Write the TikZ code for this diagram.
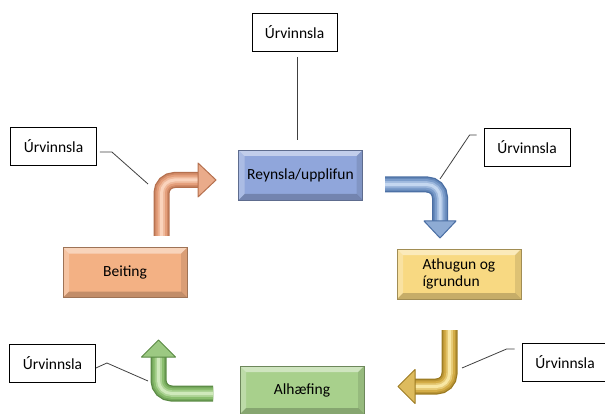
\documentclass[tikz,border=0pt]{standalone}
\usepackage{fontspec}
\setmainfont{Carlito}
\usetikzlibrary{calc}
\definecolor{boxblue}{HTML}{90A6DB}
\definecolor{boxyellow}{HTML}{F8D982}
\definecolor{boxgreen}{HTML}{A8D08C}
\definecolor{boxsalmon}{HTML}{F3B184}
\definecolor{orDark}{HTML}{B5704E}
\definecolor{orMid}{HTML}{E49E7A}
\definecolor{orLight}{HTML}{FAD3BC}
\definecolor{blDark}{HTML}{4A6EA3}
\definecolor{blMid}{HTML}{7C9DCB}
\definecolor{blLight}{HTML}{C4D7F0}
\definecolor{gdDark}{HTML}{9C7B22}
\definecolor{gdMid}{HTML}{D4AD47}
\definecolor{gdLight}{HTML}{F8E7A4}
\definecolor{grDark}{HTML}{5A8A44}
\definecolor{grMid}{HTML}{8BBE6F}
\definecolor{grLight}{HTML}{CFE9BB}
\tikzset{
  bevel/.style={path picture={
    \coordinate (pa) at (path picture bounding box.north west);
    \coordinate (pb) at (path picture bounding box.north east);
    \coordinate (pc) at (path picture bounding box.south east);
    \coordinate (pd) at (path picture bounding box.south west);
    \coordinate (qa) at ([shift={(6pt,-6pt)}]pa);
    \coordinate (qb) at ([shift={(-6pt,-6pt)}]pb);
    \coordinate (qc) at ([shift={(-6pt,6pt)}]pc);
    \coordinate (qd) at ([shift={(6pt,6pt)}]pd);
    \fill[white,opacity=.45] (pa)--(pb)--(qb)--(qa)--cycle;
    \fill[white,opacity=.25] (pa)--(qa)--(qd)--(pd)--cycle;
    \fill[black,opacity=.2] (pd)--(qd)--(qc)--(pc)--cycle;
    \fill[black,opacity=.1] (pb)--(pc)--(qc)--(qb)--cycle;
  }}
}
% tube arrow: dark, mid, light, shaft, head
\newcommand{\tubearrow}[5]{%
  \draw[#1,line width=16pt,rounded corners=13pt] #4;
  \draw[#1!45!#2,line width=13.5pt,rounded corners=13pt] #4;
  \draw[#2,line width=10.5pt,rounded corners=13pt] #4;
  \draw[#2!50!#3,line width=6.5pt,rounded corners=13pt] #4;
  \draw[#3,line width=3pt,rounded corners=13pt] #4;
  \filldraw[draw=#1,fill=#2!75!#3,line width=1pt,line join=round] #5;
}
\begin{document}
\begin{tikzpicture}[x=1pt,y=-1pt,
    every node/.style={font=\fontsize{15.5}{17}\selectfont},
    stepbox/.style={draw=#1!65!black,fill=#1,line width=0.6pt,minimum width=124pt,minimum height=50pt,inner sep=2pt,bevel},
    callout/.style={draw=black,fill=white,line width=0.8pt,minimum width=86pt,minimum height=38pt},
    callline/.style={draw=black!75,line width=0.8pt},
]
\useasboundingbox (0,0) rectangle (605,414);

% steps
\node[stepbox=boxblue] (reyn) at (300.5,175) {Reynsla/upplifun};
\node[stepbox=boxyellow,align=left] (athu) at (459,274) {Athugun og\\ígrundun};
\node[stepbox=boxgreen,minimum height=48pt] (alh) at (302,390) {Alhæfing};
\node[stepbox=boxsalmon] (beit) at (125,272.5) {Beiting};

% callouts
\node[callout,minimum width=85pt] (cTop) at (294.5,32.5) {Úrvinnsla};
\node[callout] (cRt) at (527,147) {Úrvinnsla};
\node[callout] (cLt) at (53.5,146.5) {Úrvinnsla};
\node[callout] (cLb) at (52.5,363) {Úrvinnsla};
\node[callout] (cRb) at (565,362) {Úrvinnsla};

% arrows
\coordinate (bo1) at (161.5,236);
\coordinate (bo2) at (161.5,180);
\coordinate (bo3) at (198,180);
\tubearrow{orDark}{orMid}{orLight}
  {(bo1) -- (bo2) -- (bo3)}{(bo3) ++(0,-17) -- ++(18,17) -- ++(-18,17) -- cycle}

\coordinate (ub1) at (385,184.5);
\coordinate (ub2) at (440,184.5);
\coordinate (ub3) at (440,221);
\tubearrow{blDark}{blMid}{blLight}
  {(ub1) -- (ub2) -- (ub3)}{(ub3) ++(-16,0) -- ++(16,17) -- ++(16,-17) -- cycle}

\coordinate (gd1) at (449.5,330);
\coordinate (gd2) at (449.5,386.5);
\coordinate (gd3) at (415,386.5);
\tubearrow{gdDark}{gdMid}{gdLight}
  {(gd1) -- (gd2) -- (gd3)}{(gd3) ++(0,-17) -- ++(-17,17) -- ++(17,17) -- cycle}

\coordinate (gr1) at (213,393.5);
\coordinate (gr2) at (158.5,393.5);
\coordinate (gr3) at (158.5,357);
\tubearrow{grDark}{grMid}{grLight}
  {(gr1) -- (gr2) -- (gr3)}{(gr3) ++(-17,0) -- ++(17,-17) -- ++(17,17) -- cycle}

% callout lines
\coordinate (lTop) at (297,140);
\coordinate (lRt) at (440,179);
\coordinate (lLt) at (148,184);
\coordinate (lLb) at (148,381);
\coordinate (lRb) at (462,368);
\draw[callline] (cTop.south) ++(2.5,5) -- (lTop);
\draw[callline] ([shift={(-7pt,12pt)}]cRt.west) -- ++(-7,0) -- (lRt);
\draw[callline] ([shift={(3pt,-5.5pt)}]cLt.east) -- ++(12,0) -- (lLt);
\draw[callline] ([yshift=-5pt]cLb.east) -- ++(11,-5) -- (lLb);
\draw[callline] ([shift={(-7pt,13pt)}]cRb.west) -- ++(-8,0) -- (lRb);
\end{tikzpicture}
\end{document}
